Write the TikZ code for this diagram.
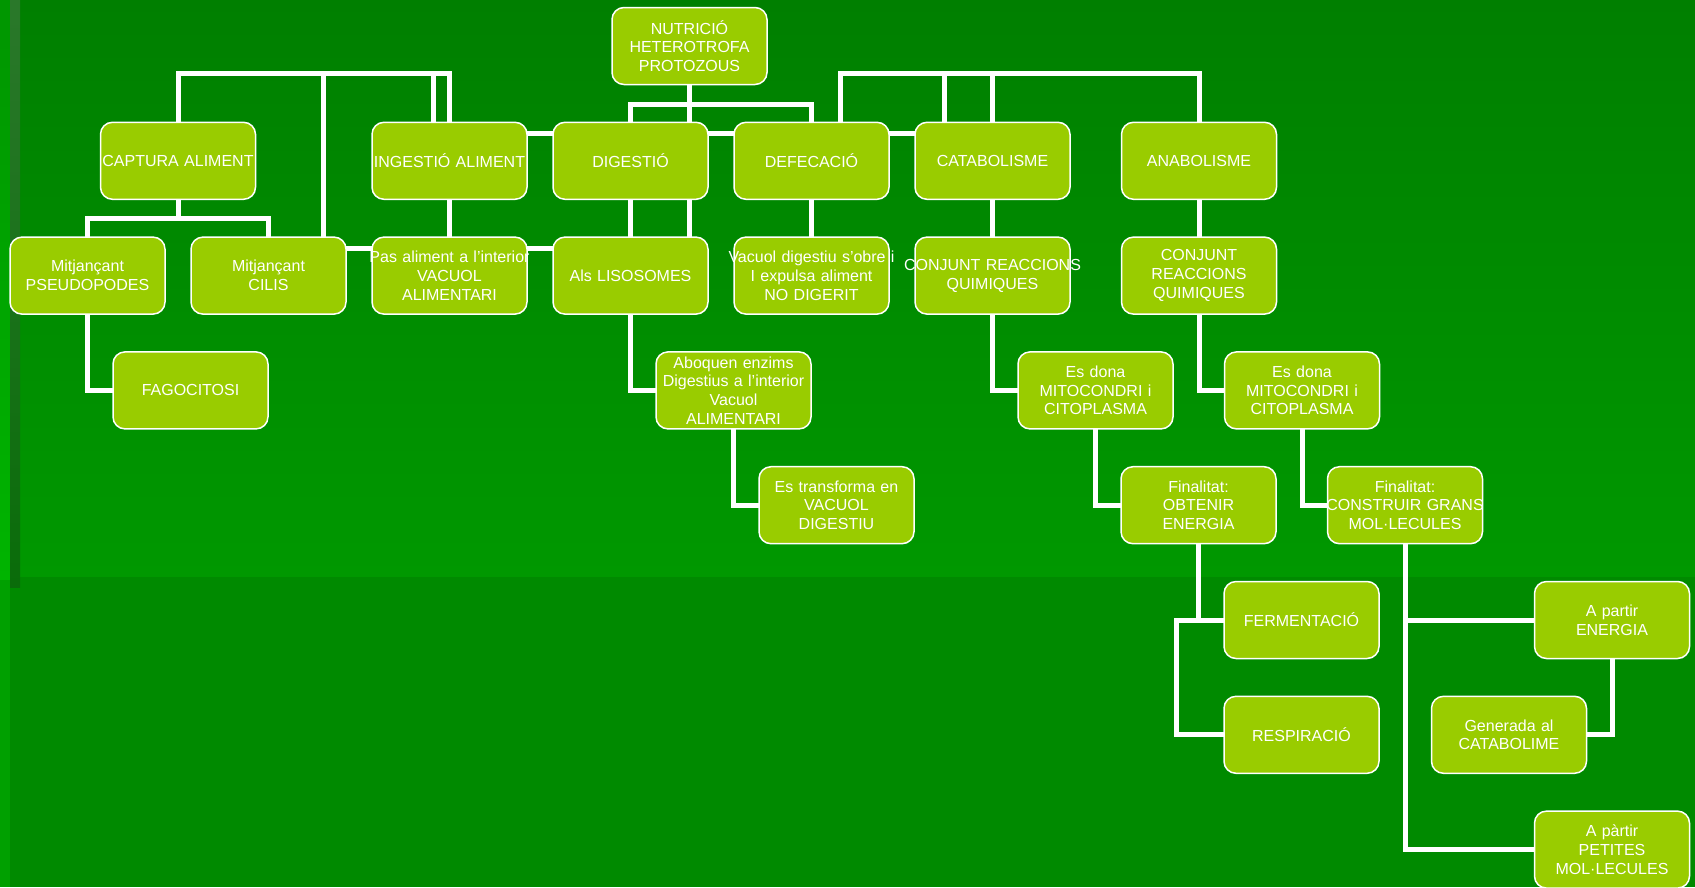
\documentclass[tikz,border=0pt]{standalone}
\usepackage{fontspec}
\setmainfont{Liberation Sans}
\usetikzlibrary{positioning,backgrounds}
\definecolor{leaf}{HTML}{99CC00}
\definecolor{bgtop}{HTML}{007F00}
\definecolor{bgmid}{HTML}{009800}
\definecolor{bgbot}{HTML}{008A00}
\definecolor{stripa}{HTML}{009600}
\definecolor{stripb}{HTML}{00B400}
\definecolor{stripc}{HTML}{00A000}
\definecolor{stripd}{HTML}{2A782A}
\definecolor{stripe}{HTML}{0A6C0A}
\tikzstyle{box} = [rectangle,
                   rounded corners=12pt,
                   text width=155pt,
                   minimum height=77pt,
                   inner sep=0pt,
                   outer sep=0pt,
                   align=center,
                   draw=white,
                   line width=1.5pt,
                   fill=leaf,
                   text=white,
                   font=\fontsize{16}{18.8}\selectfont]
\tikzstyle{link} = [draw=white, line width=5pt]
\newcommand{\wideline}[1]{\makebox[0pt]{#1}}
\begin{document}
\begin{tikzpicture}[x=1pt, y=1pt,
                      node distance=37.8pt and 26pt]
    \useasboundingbox (0,0) rectangle (1695,-887);
    \node (0) [box] at (689.5,-46) {NUTRICIÓ\\HETEROTROFA\\PROTOZOUS};
    \node (1) [below =of 0, xshift=-59pt] [box] {DIGESTIÓ};
    \node (2) [left =of 1] [box] {INGESTIÓ ALIMENT};
    \node (3) [right =of 1] [box] {DEFECACIÓ};
    \node (4) [right =of 3] [box] {CATABOLISME};
    \node (5) [right =of 4, xshift=25.5pt] [box] {ANABOLISME};
    \node (6) [left =of 2, xshift=-90.5pt] [box] {CAPTURA ALIMENT};
    \node (7) [below =of 2] [box] {\wideline{Pas aliment a l’interior}\\VACUOL\\ALIMENTARI};
    \node (8) [left =of 7] [box] {Mitjançant\\CILIS};
    \node (9) [left =of 8] [box] {Mitjançant\\PSEUDOPODES};
    \node (10) [below =of 9, xshift=103pt] [box] {FAGOCITOSI};
    \node (11) [below =of 1] [box] {Als LISOSOMES};
    \node (12) [below =of 11, xshift=103pt] [box] {Aboquen enzims\\Digestius a l’interior\\Vacuol\\ALIMENTARI};
    \node (13) [below =of 12, xshift=103pt] [box] {Es transforma en\\VACUOL\\DIGESTIU};
    \node (14) [below =of 3] [box] {\wideline{Vacuol digestiu s’obre i}\\I expulsa aliment\\NO DIGERIT};
    \node (15) [below =of 4] [box] {\wideline{CONJUNT REACCIONS}\\QUIMIQUES};
    \node (16) [below =of 15, xshift=103pt] [box] {Es dona\\MITOCONDRI i\\CITOPLASMA};
    \node (17) [below =of 16, xshift=103pt] [box] {Finalitat:\\OBTENIR\\ENERGIA};
    \node (18) [below =of 17, xshift=103pt] [box] {FERMENTACIÓ};
    \node (19) [below =of 18] [box] {RESPIRACIÓ};
    \node (20) [below =of 5] [box] {CONJUNT\\REACCIONS\\QUIMIQUES};
    \node (21) [below =of 20, xshift=103pt] [box] {Es dona\\MITOCONDRI i\\CITOPLASMA};
    \node (22) [below =of 21, xshift=103pt] [box] {Finalitat:\\\wideline{CONSTRUIR GRANS}\\MOL·LECULES};
    \node (23) [below =of 22, xshift=207pt] [box] {A partir\\ENERGIA};
    \node (24) [below =of 23, xshift=-103pt] [box] {Generada al\\CATABOLIME};
    \node (25) [below =of 24, xshift=103pt] [box] {A pàrtir\\PETITES\\MOL·LECULES};
    \begin{scope}[on background layer]
      % background
      \shade[top color=bgtop, bottom color=bgmid] (0,0) rectangle (1695,-577);
      \fill[bgbot] (0,-577) rectangle (1695,-887);
      \shade[top color=stripa, bottom color=stripb] (0,0) rectangle (10,-580);
      \fill[stripc] (0,-580) rectangle (10,-887);
      \shade[top color=stripd, bottom color=stripe] (10,0) rectangle (20,-587);
      % top buses
      \path[link]
        (6.north) |- ([yshift=48.8pt]2.north) -- (2.north)
        ([xshift=54.5pt]8.north) |- ([yshift=48.8pt]2.north)
        ([xshift=-16pt]2.north) |- ([yshift=48.8pt]2.north)
        (0.south) -- (0.south |- 1.north)
        (1.north) -- ++(0,18.3) -| (3.north)
        ([xshift=29pt]3.north) |- ([yshift=48.8pt]5.north) -- (5.north)
        (4.north) |- ([yshift=48.8pt]5.north)
        ([xshift=-48.5pt]4.north) |- ([yshift=48.8pt]5.north);
      % side links
      \path[link]
        ([yshift=-11.5pt]2.north east) -- ([yshift=-11.5pt]1.north west)
        ([yshift=-11.5pt]1.north east) -- ([yshift=-11.5pt]3.north west)
        ([yshift=-11.5pt]3.north east) -- ([yshift=-11.5pt]4.north west)
        ([yshift=-11.5pt]8.north east) -- ([yshift=-11.5pt]7.north west)
        ([yshift=-11.5pt]7.north east) -- ([yshift=-11.5pt]11.north west);
      % down links
      \path[link]
        (6.south) -- ++(0,-19.2)
        (9.north) |- ([yshift=-19.2pt]6.south) -| (8.north)
        (2.south) -- (7.north)
        (1.south) -- (11.north)
        ([xshift=59pt]1.south) -- ([xshift=59pt]11.north)
        (3.south) -- (14.north)
        (4.south) -- (15.north)
        (5.south) -- (20.north)
        (9.south) |- (10.west)
        (11.south) |- (12.west)
        (12.south) |- (13.west)
        (15.south) |- (16.west)
        (16.south) |- (17.west)
        (17.south) |- (18.west)
        (18.west) -- ([xshift=-22.5pt]17.south |- 18.west) |- (19.west)
        (20.south) |- (21.west)
        (21.south) |- (22.west)
        (22.south) |- (25.west)
        (22.south) |- (23.west)
        (23.south) |- (24.east);
    \end{scope}
\end{tikzpicture}
\end{document}
